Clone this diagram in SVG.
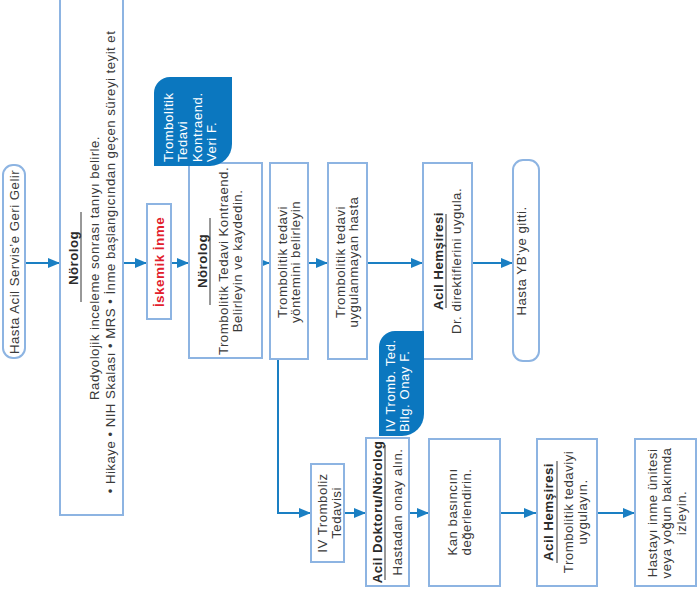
<svg xmlns="http://www.w3.org/2000/svg" width="700" height="593" viewBox="0 0 700 593">
<defs>
<style>
.box{fill:#fff;stroke:#8db4e2;stroke-width:2}
.t{font-family:"Liberation Sans",Arial,sans-serif;font-size:13.3px;fill:#3a3a3a;letter-spacing:0.45px;text-anchor:middle}
.b{font-weight:bold;fill:#2a2a2a}
.red{font-weight:bold;fill:#e2202c;font-size:13.5px}
.tab{fill:#0b77bf}
.tw{font-family:"Liberation Sans",Arial,sans-serif;font-size:13px;fill:#fff;letter-spacing:0.6px;text-anchor:start}
.ul{stroke:#333;stroke-width:1}
.c{fill:none;stroke:#1a7fc3;stroke-width:2}
</style>
<marker id="ah" markerUnits="userSpaceOnUse" markerWidth="12" markerHeight="10" refX="12" refY="5" orient="auto">
<path d="M0,0 L12,5 L0,10 Z" fill="#1a7fc3"/>
</marker>
</defs>
<rect width="700" height="593" fill="#fff"/>

<g id="connectors">
<line class="c" x1="25" y1="263" x2="60" y2="263" marker-end="url(#ah)"/>
<line class="c" x1="123" y1="263" x2="147" y2="263" marker-end="url(#ah)"/>
<line class="c" x1="171" y1="263" x2="189" y2="263" marker-end="url(#ah)"/>
<line class="c" x1="258" y1="263" x2="270" y2="263" marker-end="url(#ah)"/>
<line class="c" x1="308" y1="263" x2="328" y2="263" marker-end="url(#ah)"/>
<line class="c" x1="367" y1="263" x2="423" y2="263" marker-end="url(#ah)"/>
<line class="c" x1="472" y1="263" x2="513" y2="263" marker-end="url(#ah)"/>
<polyline class="c" points="278,359 278,513 311,513" marker-end="url(#ah)"/>
<line class="c" x1="344" y1="513" x2="366" y2="513" marker-end="url(#ah)"/>
<line class="c" x1="409" y1="513" x2="429" y2="513" marker-end="url(#ah)"/>
<line class="c" x1="500" y1="513" x2="536" y2="513" marker-end="url(#ah)"/>
<line class="c" x1="597" y1="513" x2="635" y2="513" marker-end="url(#ah)"/>
</g>

<g id="n1">
<rect class="box" x="3" y="165" width="22" height="193" rx="10"/>
<text class="t" transform="translate(19,262) rotate(-90)">Hasta Acil Servis’e Geri Gelir</text>
</g>

<g id="n2">
<rect class="box" x="60" y="-3" width="63" height="518"/>
<text class="t b" transform="translate(78,258) rotate(-90)">Nörolog</text>
<line class="ul" x1="81" y1="212" x2="81" y2="302"/>
<text class="t" transform="translate(99,268) rotate(-90)">Radyolojik inceleme sonrası tanıyı belirle.</text>
<text class="t" transform="translate(115,262) rotate(-90)">• Hikaye • NIH Skalası • MRS • İnme başlangıcından geçen süreyi teyit et</text>
</g>

<g id="n3">
<rect class="box" x="147" y="204" width="24" height="115"/>
<text class="t red" transform="translate(164,262) rotate(-90)">İskemik İnme</text>
</g>

<g id="n4">
<rect class="box" x="189" y="163" width="73" height="195"/>
<text class="t b" transform="translate(207,261) rotate(-90)">Nörolog</text>
<line class="ul" x1="210" y1="218" x2="210" y2="305"/>
<text class="t" transform="translate(228,261) rotate(-90)">Trombolitik Tedavi Kontraend.</text>
<text class="t" transform="translate(242,261) rotate(-90)">Belirleyin ve kaydedin.</text>
</g>

<g id="tab1">
<path class="tab" d="M154,166 V93 A16,16 0 0 1 170,77 H232 V144 A22,22 0 0 1 210,166 Z"/>
<text class="tw" transform="translate(173,162) rotate(-90)">Trombolitik</text>
<text class="tw" transform="translate(187,162) rotate(-90)">Tedavi</text>
<text class="tw" transform="translate(202,162) rotate(-90)">Kontraend.</text>
<text class="tw" transform="translate(216,162) rotate(-90)">Veri F.</text>
</g>

<g id="n5">
<rect class="box" x="270" y="163" width="38" height="196"/>
<text class="t" transform="translate(287,262) rotate(-90)">Trombolitik tedavi</text>
<text class="t" transform="translate(300,262) rotate(-90)">yöntemini belirleyin</text>
</g>

<g id="n6">
<rect class="box" x="328" y="163" width="39" height="196"/>
<text class="t" transform="translate(345,262) rotate(-90)">Trombolitik tedavi</text>
<text class="t" transform="translate(358,262) rotate(-90)">uygulanmayan hasta</text>
</g>

<g id="n7">
<rect class="box" x="423" y="163" width="49" height="196"/>
<text class="t b" transform="translate(443,261) rotate(-90)">Acil Hemşiresi</text>
<line class="ul" x1="446" y1="214" x2="446" y2="308"/>
<text class="t" transform="translate(461,261) rotate(-90)">Dr. direktiflerini uygula.</text>
</g>

<g id="n8">
<rect class="box" x="513" y="160" width="26" height="201" rx="10"/>
<text class="t" transform="translate(526,261) rotate(-90)">Hasta YB’ye gitti.</text>
</g>

<g id="n9">
<rect class="box" x="311" y="464" width="33" height="98"/>
<text class="t" transform="translate(327,513) rotate(-90)">IV Tromboliz</text>
<text class="t" transform="translate(341,513) rotate(-90)">Tedavisi</text>
</g>

<g id="n10">
<rect class="box" x="366" y="438" width="43" height="148"/>
<text class="t b" transform="translate(382,512) rotate(-90)">Acil Doktoru/Nörolog</text>
<line class="ul" x1="385" y1="445" x2="385" y2="580"/>
<text class="t" transform="translate(402,512) rotate(-90)">Hastadan onay alın.</text>
</g>

<g id="tab2">
<path class="tab" d="M379,436 V347 A16,16 0 0 1 395,331 H424 V414 A22,22 0 0 1 402,436 Z"/>
<text class="tw" transform="translate(395,432) rotate(-90)">IV Tromb. Ted.</text>
<text class="tw" transform="translate(409,432) rotate(-90)">Bilg. Onay F.</text>
</g>

<g id="n11">
<rect class="box" x="429" y="439" width="71" height="147"/>
<text class="t" transform="translate(457,512) rotate(-90)">Kan basıncını</text>
<text class="t" transform="translate(471,512) rotate(-90)">değerlendirin.</text>
</g>

<g id="n12">
<rect class="box" x="537" y="439" width="60" height="147"/>
<text class="t b" transform="translate(553,512) rotate(-90)">Acil Hemşiresi</text>
<line class="ul" x1="557" y1="461" x2="557" y2="563"/>
<text class="t" transform="translate(573,512) rotate(-90)">Trombolitik tedaviyi</text>
<text class="t" transform="translate(587,512) rotate(-90)">uygulayın.</text>
</g>

<g id="n13">
<rect class="box" x="635" y="439" width="61" height="147"/>
<text class="t" transform="translate(657,513) rotate(-90)">Hastayı inme ünitesi</text>
<text class="t" transform="translate(671,513) rotate(-90)">veya yoğun bakımda</text>
<text class="t" transform="translate(686,513) rotate(-90)">izleyin.</text>
</g>
</svg>
